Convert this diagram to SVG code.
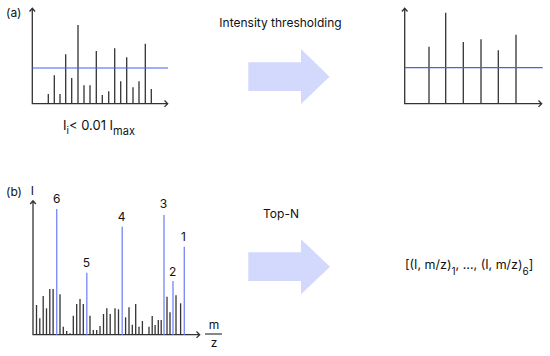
<svg xmlns="http://www.w3.org/2000/svg" width="550" height="356" viewBox="0 0 550 356">
<style>
text{font-family:Inter,"Liberation Sans",sans-serif;fill:#111}
.ax{stroke:#333;stroke-width:1.3;fill:none}
.bar{stroke:#333;stroke-width:1.3}
.th{stroke:#4a5cf2;stroke-width:1.2}
.pk{stroke:#7f8df8;stroke-width:1.4}
.big{fill:#d3d8fd}
</style>
<rect width="550" height="356" fill="#fff"/>
<g id="panel-a-left">
<text x="6" y="17" font-size="12">(a)</text>
<path class="ax" d="M32.3,8.5 V103.7 H167.5 M29.5,11.5 L32.3,8.3 L35.1,11.5 M164.5,100.5 L167.7,103.7 L164.5,106.9"/>
<g class="bar">
<line x1="48.3" y1="103.7" x2="48.3" y2="94"/>
<line x1="54.3" y1="103.7" x2="54.3" y2="75.3"/>
<line x1="60" y1="103.7" x2="60" y2="94"/>
<line x1="65.7" y1="103.7" x2="65.7" y2="54.3"/>
<line x1="71.7" y1="103.7" x2="71.7" y2="78"/>
<line x1="78" y1="103.7" x2="78" y2="25"/>
<line x1="84" y1="103.7" x2="84" y2="85.3"/>
<line x1="90" y1="103.7" x2="90" y2="85.3"/>
<line x1="96.3" y1="103.7" x2="96.3" y2="51"/>
<line x1="102.3" y1="103.7" x2="102.3" y2="95"/>
<line x1="108.7" y1="103.7" x2="108.7" y2="91.3"/>
<line x1="114.7" y1="103.7" x2="114.7" y2="48.3"/>
<line x1="120.7" y1="103.7" x2="120.7" y2="81.3"/>
<line x1="126.7" y1="103.7" x2="126.7" y2="57.3"/>
<line x1="133" y1="103.7" x2="133" y2="87.3"/>
<line x1="139" y1="103.7" x2="139" y2="81.3"/>
<line x1="145.3" y1="103.7" x2="145.3" y2="43.7"/>
<line x1="151.3" y1="103.7" x2="151.3" y2="89"/>
</g>
<line class="th" x1="32.3" y1="68" x2="168" y2="68"/>
<text x="63" y="130" font-size="13">I<tspan font-size="10" dy="4">i</tspan><tspan dy="-4">&lt; 0.01 I</tspan><tspan font-size="11" dy="5">max</tspan></text>
</g>
<g id="arrow-a">
<text x="280.5" y="27" font-size="12" text-anchor="middle">Intensity thresholding</text>
<polygon class="big" points="248.3,62.3 301,62.3 301,49 329.5,76.7 301,104 301,91 248.3,91"/>
</g>
<g id="panel-a-right">
<path class="ax" d="M404.7,8.5 V103.7 H541.5 M401.9,11.5 L404.7,8.3 L407.5,11.5 M538.5,100.5 L541.7,103.7 L538.5,106.9"/>
<g class="bar">
<line x1="429" y1="103.7" x2="429" y2="46.7"/>
<line x1="445.7" y1="103.7" x2="445.7" y2="12.7"/>
<line x1="463.3" y1="103.7" x2="463.3" y2="42"/>
<line x1="481" y1="103.7" x2="481" y2="39.3"/>
<line x1="498.3" y1="103.7" x2="498.3" y2="50.3"/>
<line x1="516" y1="103.7" x2="516" y2="34.7"/>
</g>
<line class="th" x1="404.7" y1="67.7" x2="542.7" y2="67.7"/>
</g>
<g id="panel-b-left">
<text x="6" y="196" font-size="12">(b)</text>
<text x="32.3" y="195" font-size="12" text-anchor="middle">I</text>
<path class="ax" d="M33,201 V334.7 H199.5 M30.2,204 L33,200.8 L35.8,204 M196.5,331.5 L199.7,334.7 L196.5,337.9"/>
<g class="bar">
<line x1="36.5" y1="334.7" x2="36.5" y2="305"/>
<line x1="39.8" y1="334.7" x2="39.8" y2="318.3"/>
<line x1="43.2" y1="334.7" x2="43.2" y2="296"/>
<line x1="46.5" y1="334.7" x2="46.5" y2="308.3"/>
<line x1="49.8" y1="334.7" x2="49.8" y2="289"/>
<line x1="53.1" y1="334.7" x2="53.1" y2="289"/>
<line x1="60" y1="334.7" x2="60" y2="294.3"/>
<line x1="63.3" y1="334.7" x2="63.3" y2="326.7"/>
<line x1="66.7" y1="334.7" x2="66.7" y2="331"/>
<line x1="70" y1="334.7" x2="70" y2="333.3"/>
<line x1="73.3" y1="334.7" x2="73.3" y2="315.7"/>
<line x1="76.7" y1="334.7" x2="76.7" y2="304"/>
<line x1="80" y1="334.7" x2="80" y2="299"/>
<line x1="83.3" y1="334.7" x2="83.3" y2="304"/>
<line x1="90" y1="334.7" x2="90" y2="315.7"/>
<line x1="93.3" y1="334.7" x2="93.3" y2="330"/>
<line x1="96.7" y1="334.7" x2="96.7" y2="330"/>
<line x1="100" y1="334.7" x2="100" y2="326"/>
<line x1="103.5" y1="334.7" x2="103.5" y2="314"/>
<line x1="106.8" y1="334.7" x2="106.8" y2="308.3"/>
<line x1="110.2" y1="334.7" x2="110.2" y2="314"/>
<line x1="115" y1="334.7" x2="115" y2="308.3"/>
<line x1="118.5" y1="334.7" x2="118.5" y2="309.3"/>
<line x1="125.6" y1="334.7" x2="125.6" y2="317.3"/>
<line x1="129" y1="334.7" x2="129" y2="307.3"/>
<line x1="132.3" y1="334.7" x2="132.3" y2="324.7"/>
<line x1="135.7" y1="334.7" x2="135.7" y2="304"/>
<line x1="139" y1="334.7" x2="139" y2="326.7"/>
<line x1="142.4" y1="334.7" x2="142.4" y2="321"/>
<line x1="149" y1="334.7" x2="149" y2="326.7"/>
<line x1="152.2" y1="334.7" x2="152.2" y2="316"/>
<line x1="155.1" y1="334.7" x2="155.1" y2="325"/>
<line x1="158.3" y1="334.7" x2="158.3" y2="320"/>
<line x1="161.2" y1="334.7" x2="161.2" y2="320"/>
<line x1="167" y1="334.7" x2="167" y2="296.7"/>
<line x1="170" y1="334.7" x2="170" y2="312.3"/>
<line x1="176" y1="334.7" x2="176" y2="295.3"/>
<line x1="180.6" y1="334.7" x2="180.6" y2="303.3"/>
</g>
<g class="pk">
<line x1="56.7" y1="334.7" x2="56.7" y2="209"/>
<line x1="86.8" y1="334.7" x2="86.8" y2="272.7"/>
<line x1="122.2" y1="334.7" x2="122.2" y2="226.7"/>
<line x1="164" y1="334.7" x2="164" y2="215"/>
<line x1="173" y1="334.7" x2="173" y2="281"/>
<line x1="184.3" y1="334.7" x2="184.3" y2="246.7"/>
</g>
<g font-size="12" text-anchor="middle">
<text x="56.7" y="202.7">6</text>
<text x="86.5" y="266.7">5</text>
<text x="121.7" y="221">4</text>
<text x="163.5" y="208.3">3</text>
<text x="172.7" y="276">2</text>
<text x="183.5" y="241">1</text>
</g>
<text x="214" y="329" font-size="12" text-anchor="middle">m</text>
<line x1="205" y1="334" x2="222" y2="334" stroke="#111" stroke-width="1"/>
<text x="214" y="347" font-size="12" text-anchor="middle">z</text>
</g>
<g id="arrow-b">
<text x="281" y="217.7" font-size="12" text-anchor="middle">Top-N</text>
<polygon class="big" points="248.3,252.3 301,252.3 301,239.3 330,266.7 301,294.3 301,281 248.3,281"/>
</g>
<g id="result-b">
<text x="405" y="269.3" font-size="12.5">[(I, m/z)<tspan font-size="10" dy="6">1</tspan><tspan dy="-6">, ..., (I, m/z)</tspan><tspan font-size="10" dy="6">6</tspan><tspan dy="-6">]</tspan></text>
</g>
</svg>
